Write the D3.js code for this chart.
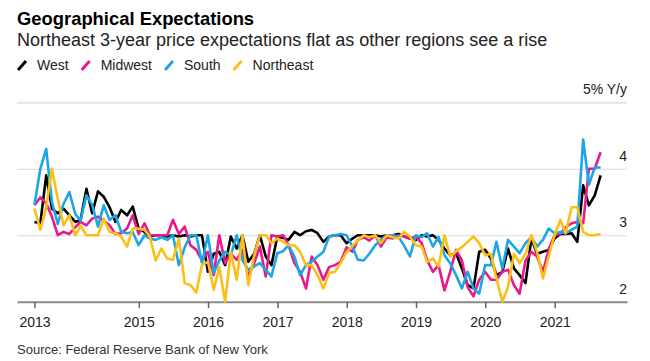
<!DOCTYPE html>
<html lang="en">
<head>
<meta charset="UTF-8">
<title>Geographical Expectations</title>
<script src="https://cdn.jsdelivr.net/npm/d3@7"></script>
<style>
  body { margin: 0; background: #fff; }
  svg text { font-family: "Liberation Sans", Arial, sans-serif; }
</style>
</head>
<body>
<svg id="mainsvg" width="650" height="361"></svg>
<script>
// 3-year ahead inflation expectations by region, monthly Jun 2013 - Aug 2021
const regions = ["West", "Midwest", "South", "Northeast"];
const colors = ["#000000", "#e8198b", "#1ba6e6", "#fbbf15"];

const west = [3.2,3.18,3.9,3.4,3.33,3.4,3.3,3.2,3.23,3.7,3.33,3.66,3.58,3.42,3.2,3.38,3.3,3.43,3.1,3.05,
  2.98,3.0,3.0,2.98,3.0,2.98,3.0,2.98,3.0,3.0,2.45,2.72,2.75,2.55,2.98,2.8,3.0,2.6,2.72,3.0,
  2.68,2.55,2.98,2.96,2.93,3.05,3.0,3.06,3.08,3.03,2.9,2.98,3.0,3.0,2.88,2.95,3.0,3.0,3.0,3.0,
  2.98,3.0,3.0,3.02,2.98,2.95,2.93,3.0,2.98,3.0,2.93,2.8,2.7,2.73,2.5,2.25,2.2,2.75,2.78,2.65,
  2.4,2.45,2.8,2.5,2.4,2.28,2.95,2.72,2.75,2.78,2.95,3.02,3.02,3.03,2.9,3.75,3.45,3.6,3.9];
const midwest = [3.45,3.57,3.48,3.28,3.0,3.05,3.02,3.12,3.2,3.15,3.25,3.28,3.22,3.15,3.02,3.03,3.1,3.3,3.02,3.18,
  3.0,3.0,3.0,3.0,3.23,3.02,3.13,2.85,2.78,2.62,2.75,2.4,3.0,2.58,2.72,2.63,2.78,2.38,2.58,2.83,
  2.38,3.0,2.98,3.0,2.85,2.58,2.45,2.2,2.68,2.55,2.33,2.52,2.55,2.6,2.82,2.75,2.93,2.97,2.92,3.0,
  2.83,2.97,2.95,3.0,2.98,2.95,2.98,2.88,2.63,2.45,2.55,2.17,2.45,2.78,2.62,2.22,2.08,2.33,2.45,2.33,
  2.33,2.45,2.48,2.25,2.12,2.62,2.75,2.68,2.45,2.78,3.0,3.02,3.12,3.18,3.2,3.18,4.0,4.0,4.25];
const south = [3.46,4.0,4.3,3.5,3.17,3.47,3.65,3.32,3.22,3.6,3.46,3.13,3.45,3.23,3.3,3.05,3.03,3.05,2.85,3.0,
  2.95,2.93,2.97,2.93,3.0,2.55,2.82,3.0,3.0,2.58,3.0,2.43,2.62,2.75,2.7,3.0,2.63,2.48,2.53,2.58,
  2.48,2.38,2.73,2.76,2.85,2.68,2.4,2.55,2.6,2.68,2.75,2.98,3.0,3.02,3.0,2.83,2.63,2.62,2.72,2.85,
  2.93,3.0,3.0,2.98,2.84,2.68,3.0,2.97,3.03,2.83,2.97,2.7,2.58,2.4,2.2,2.45,2.2,2.12,2.55,2.55,
  2.9,2.5,2.93,2.83,2.73,2.88,2.97,2.83,2.93,3.1,3.03,3.05,3.03,3.08,3.13,4.44,3.76,4.02,4.02];
const northeast = [3.4,3.08,3.42,4.0,3.55,3.15,3.3,3.0,3.14,3.0,3.0,3.0,3.25,3.05,3.03,2.98,2.83,3.1,3.1,3.08,
  2.98,2.62,2.8,2.65,2.63,2.95,2.28,2.25,2.14,2.56,2.6,2.18,2.52,2.0,2.75,2.33,3.0,2.25,2.7,3.0,
  3.0,2.88,2.95,2.9,2.85,2.85,2.75,2.55,2.55,2.4,2.2,2.43,2.45,2.58,2.75,2.84,2.92,3.0,2.97,3.0,
  2.88,3.0,2.97,2.95,3.05,2.98,2.85,2.83,2.6,2.65,2.53,3.0,2.68,2.76,2.82,2.9,2.98,2.88,2.7,2.72,
  2.35,2.0,2.22,2.72,2.58,2.72,3.0,2.75,2.35,2.68,3.0,3.23,3.03,3.42,3.42,3.05,3.0,3.0,3.02];

const firstMonth = "2013-06";
const yTicks = [2, 3, 4, 5];
const tickDates = ["2013-06-30", "2015-01-01", "2016-01-01", "2017-01-01", "2018-01-01", "2019-01-01", "2020-01-01", "2021-01-01"];
const tickLabels = ["2013", "2015", "2016", "2017", "2018", "2019", "2020", "2021"];

const svg = d3.select("#mainsvg");
const width = +svg.attr("width");
const margin = {left: 17, right: 23};

const parseDay = d3.timeParse("%Y-%m-%d");
const start = d3.timeParse("%Y-%m")(firstMonth);
// month-end dates for each observation
const dates = west.map((_, i) => d3.timeDay.offset(d3.timeMonth.offset(start, i + 1), -1));

const x = d3.scaleTime()
  .domain([new Date(2013, 2, 30), new Date(2022, 0, 17)])
  .range([margin.left, width - margin.right]);
const y = d3.scaleLinear().domain([2, 5]).range([301.7, 102.3]);

// gridlines
const grid = svg.append("g").attr("transform", `translate(${margin.left},0)`)
  .call(d3.axisLeft(y).tickValues(yTicks.slice(1)).tickSize(-(width - margin.left - margin.right)).tickFormat(""));
grid.select(".domain").remove();
grid.selectAll(".tick line").attr("stroke", "#d9d9d9").attr("stroke-width", 1.2);

// right-hand value labels sitting on top of gridlines
const yLab = svg.append("g").attr("transform", `translate(${width - margin.right},0)`)
  .call(d3.axisRight(y).tickValues(yTicks).tickSize(0)
    .tickFormat(d => d === 5 ? "5% Y/y" : d));
yLab.select(".domain").remove();
yLab.selectAll("text")
  .attr("text-anchor", "end").attr("x", 0).attr("dy", "-8.5")
  .attr("font-size", 14).attr("fill", "#222");

// x axis
const xAxis = svg.append("g").attr("transform", `translate(0,${y(2)})`)
  .call(d3.axisBottom(x).tickValues(tickDates.map(parseDay))
    .tickFormat((d, i) => tickLabels[i]).tickSize(6.5).tickSizeOuter(0).tickPadding(9));
xAxis.select(".domain").attr("stroke", "#8a8a8a").attr("stroke-width", 2);
xAxis.selectAll(".tick line").attr("stroke", "#666").attr("stroke-width", 1.5);
xAxis.selectAll("text").attr("font-size", 14).attr("fill", "#222");

// lines
const series = [west, midwest, south, northeast];
const line = d3.line().x((d, i) => x(dates[i])).y(d => y(d));
series.forEach((s, k) => {
  svg.append("path").datum(s)
    .attr("d", line)
    .attr("fill", "none")
    .attr("stroke", colors[k])
    .attr("stroke-width", 2.6)
    .attr("stroke-linejoin", "round");
});

// titles
svg.append("text").text("Geographical Expectations")
  .attr("x", 17).attr("y", 25).attr("font-size", 18.4).attr("font-weight", "bold").attr("fill", "#000");
svg.append("text").text("Northeast 3-year price expectations flat as other regions see a rise")
  .attr("x", 17).attr("y", 46).attr("font-size", 18).attr("fill", "#222");

// legend
let lx = 17;
regions.forEach((r, k) => {
  svg.append("line")
    .attr("x1", lx + 1).attr("y1", 70).attr("x2", lx + 9).attr("y2", 61)
    .attr("stroke", colors[k]).attr("stroke-width", 3);
  const t = svg.append("text").text(r)
    .attr("x", lx + 20).attr("y", 70).attr("font-size", 14).attr("fill", "#222");
  lx += 20 + t.node().getComputedTextLength() + 12;
});

svg.append("text").text("Source: Federal Reserve Bank of New York")
  .attr("x", 17).attr("y", 354).attr("font-size", 13).attr("fill", "#333");
</script>
</body>
</html>
